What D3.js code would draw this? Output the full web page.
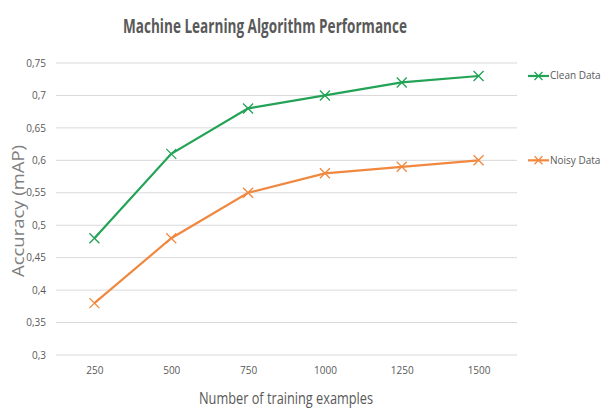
<!DOCTYPE html>
<html>
<head>
<meta charset="utf-8">
<script src="https://cdn.jsdelivr.net/npm/d3@7"></script>
<style>
  body { margin: 0; background: #fff; }
  text { font-family: "Open Sans", "DejaVu Sans", sans-serif; }
</style>
</head>
<body>
<script>
(function () {
  "use strict";
  var w = 603, h = 408;
  var categories = [250, 500, 750, 1000, 1250, 1500];
  var cleanData = [0.48, 0.61, 0.68, 0.70, 0.72, 0.73];
  var noisyData = [0.38, 0.48, 0.55, 0.58, 0.59, 0.60];
  var yTicks = [0.3, 0.35, 0.4, 0.45, 0.5, 0.55, 0.6, 0.65, 0.7, 0.75];
  var series = [
    { name: "Clean Data", values: cleanData, color: "#22a356" },
    { name: "Noisy Data", values: noisyData, color: "#f0883f" }
  ];

  var left = 56, right = 517, top = 63, bottom = 355;

  var svg = d3.select("body").append("svg")
              .attr("width", w)
              .attr("height", h);

  var x = d3.scalePoint()
            .domain(categories)
            .range([left, right])
            .padding(0.5);
  var y = d3.scaleLinear()
            .domain([0.3, 0.75])
            .range([bottom, top]);

  // gridlines
  svg.append("g")
     .selectAll("line")
     .data(yTicks)
     .enter()
     .append("line")
     .attr("x1", left)
     .attr("x2", right)
     .attr("y1", d => y(d))
     .attr("y2", d => y(d))
     .attr("stroke", "#d9d9d9")
     .attr("stroke-width", 1);

  var fmt = d => String(+d.toFixed(2)).replace(".", ",");

  // y axis
  var yAxis = svg.append("g")
                 .attr("transform", "translate(" + left + ",0)")
                 .call(d3.axisLeft(y).tickValues(yTicks).tickFormat(fmt).tickSize(0).tickPadding(10));
  yAxis.select(".domain").remove();
  yAxis.selectAll("text").attr("fill", "#595959").attr("font-size", 10);

  // x axis
  var xAxis = svg.append("g")
                 .attr("transform", "translate(0," + bottom + ")")
                 .call(d3.axisBottom(x).tickSize(0).tickPadding(12));
  xAxis.select(".domain").remove();
  xAxis.selectAll("text").attr("fill", "#595959").attr("font-size", 10);

  var line = d3.line()
               .x((d, i) => x(categories[i]))
               .y(d => y(d));

  function cross(g, cx, cy, color, m) {
    g.append("path")
     .attr("d", "M" + (cx - m) + "," + (cy - m) + "L" + (cx + m) + "," + (cy + m) +
                "M" + (cx - m) + "," + (cy + m) + "L" + (cx + m) + "," + (cy - m))
     .attr("stroke", color)
     .attr("stroke-width", 1.3)
     .attr("fill", "none");
  }

  series.forEach(function (s) {
    var g = svg.append("g");
    g.append("path")
     .datum(s.values)
     .attr("d", line)
     .attr("fill", "none")
     .attr("stroke", s.color)
     .attr("stroke-width", 2.2);
    s.values.forEach(function (v, i) {
      cross(g, x(categories[i]), y(v), s.color, 5);
    });
    // legend, placed at last value
    var ly = y(s.values[s.values.length - 1]);
    g.append("line")
     .attr("x1", 528).attr("x2", 549)
     .attr("y1", ly).attr("y2", ly)
     .attr("stroke", s.color)
     .attr("stroke-width", 2.2);
    cross(g, 538.5, ly, s.color, 4);
    g.append("text")
     .attr("x", 550)
     .attr("y", ly)
     .attr("dy", "0.35em")
     .attr("font-size", 10)
     .attr("fill", "#595959")
     .text(s.name);
  });

  // title
  svg.append("text")
     .attr("x", 265)
     .attr("y", 33)
     .attr("text-anchor", "middle")
     .attr("font-size", 20)
     .attr("font-weight", "bold")
     .attr("fill", "#595959")
     .attr("textLength", 284)
     .attr("lengthAdjust", "spacingAndGlyphs")
     .text("Machine Learning Algorithm Performance");

  // axis titles
  svg.append("text")
     .attr("x", 286)
     .attr("y", 404)
     .attr("text-anchor", "middle")
     .attr("font-size", 16)
     .attr("fill", "#595959")
     .attr("textLength", 174)
     .attr("lengthAdjust", "spacingAndGlyphs")
     .text("Number of training examples");

  svg.append("text")
     .attr("transform", "translate(24,211) rotate(-90)")
     .attr("text-anchor", "middle")
     .attr("font-size", 16)
     .attr("fill", "#7f7f7f")
     .attr("textLength", 132)
     .attr("lengthAdjust", "spacingAndGlyphs")
     .text("Accuracy (mAP)");
})();
</script>
</body>
</html>
